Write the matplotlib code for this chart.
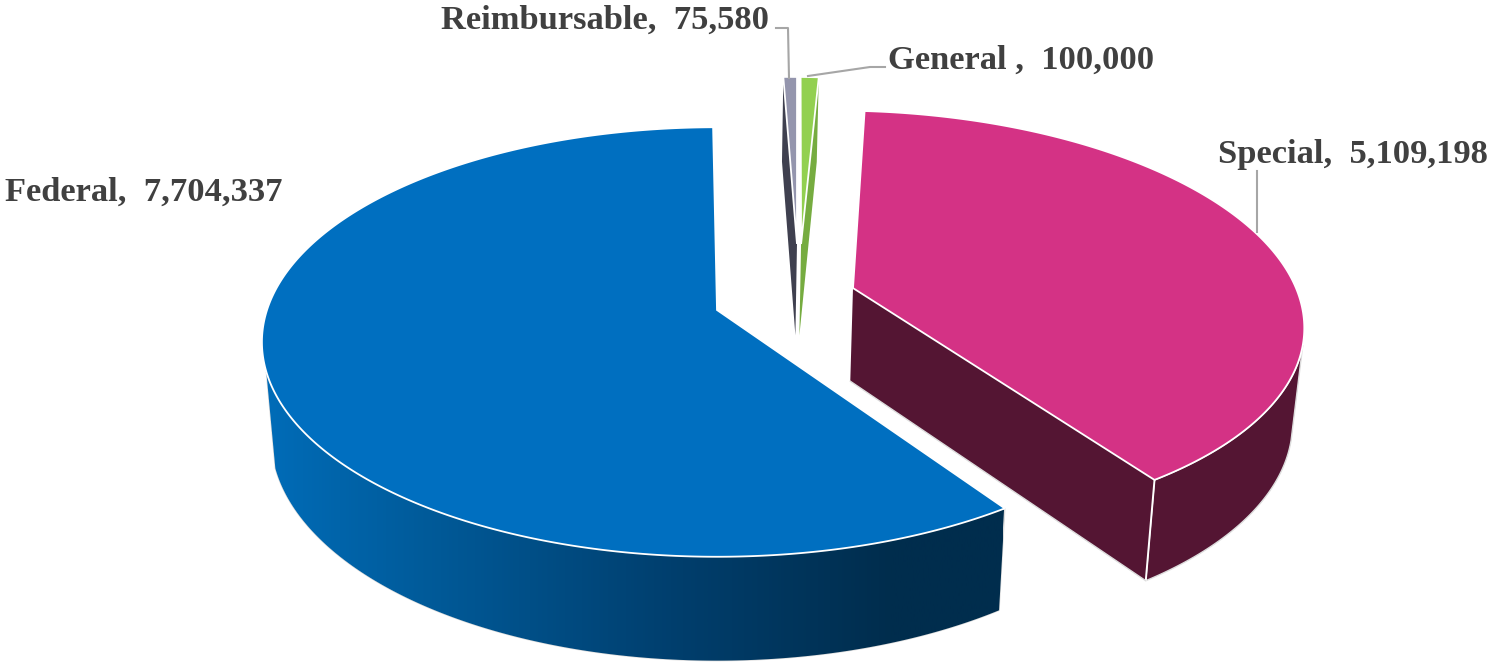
import numpy as np
import matplotlib
matplotlib.use("Agg")
import matplotlib.pyplot as plt
from matplotlib.patches import Polygon
from matplotlib.colors import LinearSegmentedColormap

# data
categories = ["Federal", "Reimbursable", "General ", "Special"]
values = [7704337, 75580, 100000, 5109198]

# style / geometry
first_angle = 145.9
offsets = [(0.0, 0.0), (0.1865, -0.33), (0.196, -0.33), (0.307, -0.106)]
top_colors = ["#006FC0", "#9495AD", "#92D050", "#D43285"]
side_colors = ["#002D4D", "#3F404F", "#76AC40", "#541533"]
wall_ranges = {0: (145.9, 253.6), 3: (465.6, 505.9)}
X0, Y0, A, B, K = 717.0, 310.0, 450.0, 210.0, 0.149
BOTTOM_X, BOTTOM_DY, BOTTOM_Y = 0.98, 94.0, 1.04
TEXT = "#404040"
LEADER = "#A6A6A6"

W, H = 1491, 662
fig = plt.figure(figsize=(W / 100, H / 100), dpi=100)
ax = fig.add_axes([0, 0, 1, 1])
ax.set_xlim(0, W)
ax.set_ylim(H, 0)
ax.axis("off")


def top(u, v):
    d = 1 - K * v
    return X0 + A * u / d, Y0 + B * v / d


def bottom(u, v):
    x, y = top(u, v)
    return X0 + BOTTOM_X * (x - X0), Y0 + BOTTOM_DY + BOTTOM_Y * (y - Y0)


def rim(i, ang):
    t = np.radians(ang)
    return offsets[i][0] + np.sin(t), offsets[i][1] - np.cos(t)


grad = LinearSegmentedColormap.from_list(
    "g", [(0, "#006CB8"), (0.2, "#005C9C"), (0.55, "#003F6E"), (0.85, "#002D4D"), (1, "#002D4D")]
)

fractions = np.array(values, float) / sum(values)
sweeps = fractions * 360
starts = first_angle + np.concatenate([[0], np.cumsum(sweeps)[:-1]])

z = 1


def cut_face(i, ang, color):
    global z
    ou, ov = offsets[i]
    u, v = rim(i, ang)
    pts = [top(ou, ov), top(u, v), bottom(u, v), bottom(ou, ov)]
    ax.add_patch(Polygon(pts, closed=True, fc=color, ec="none", zorder=z))
    z += 1


for i in [1, 2, 0, 3]:
    a0, sw = starts[i], sweeps[i]
    a1 = a0 + sw
    ou, ov = offsets[i]
    uv = [rim(i, a) for a in np.linspace(a0, a1, max(int(sw * 2), 4))]
    if i == 1:
        cut_face(i, a0, side_colors[i])
    if i == 2:
        cut_face(i, a1, side_colors[i])
    # outer wall, only the part that faces the viewer
    if i in wall_ranges:
        wa, wb = wall_ranges[i]
        wuv = [rim(i, a) for a in np.linspace(wa, wb, 200)]
        tops = [top(*p) for p in wuv]
        bots = [bottom(*p) for p in wuv]
        wall = Polygon(tops + bots[::-1], closed=True, fc=side_colors[i],
                       ec="#DDDDDD", lw=1.0, zorder=z)
        ax.add_patch(wall)
        z += 1
        if i == 0:
            im = ax.imshow(np.linspace(0, 1, 512)[None, :], cmap=grad, aspect="auto",
                           extent=(265, 1003, H, 0), zorder=z, vmin=0, vmax=1)
            inner = Polygon(tops + bots[::-1], closed=True, transform=ax.transData)
            im.set_clip_path(inner)
            ax.set_xlim(0, W)
            ax.set_ylim(H, 0)
            z += 1
    if i == 3:
        cut_face(i, a1, side_colors[i])
        xa, ya = top(*rim(i, a1))
        xb, yb = bottom(*rim(i, a1))
        ax.plot([xa, xb], [ya, yb], color="white", lw=1.4, zorder=z)
        xc, yc = bottom(ou, ov)
        ax.plot([xc, xb], [yc, yb], color="#DDDDDD", lw=1.0, zorder=z)
    # top face
    pts = [top(ou, ov)] + [top(*p) for p in uv]
    ax.add_patch(Polygon(pts, closed=True, fc=top_colors[i], ec="white", lw=1.3,
                         joinstyle="miter", zorder=z + 1))
    z += 2

# leader lines
ax.plot([776, 788, 789], [28, 28, 78], color=LEADER, lw=1.5, zorder=50)
ax.plot([885, 870, 808], [67, 67, 76], color=LEADER, lw=1.5, zorder=50)
ax.plot([1257, 1257], [171, 232], color=LEADER, lw=1.5, zorder=50)

# labels
label_pos = [(5, 192), (441, 20), (888, 60), (1218, 154)]
for name, val, (x, y) in zip(categories, values, label_pos):
    ax.text(x, y, f"{name},  {val:,}", ha="left", va="center", color=TEXT,
            fontsize=24.8, fontweight="bold", family="Liberation Serif", zorder=60)

fig.savefig("out.png", dpi=100, facecolor="white")
